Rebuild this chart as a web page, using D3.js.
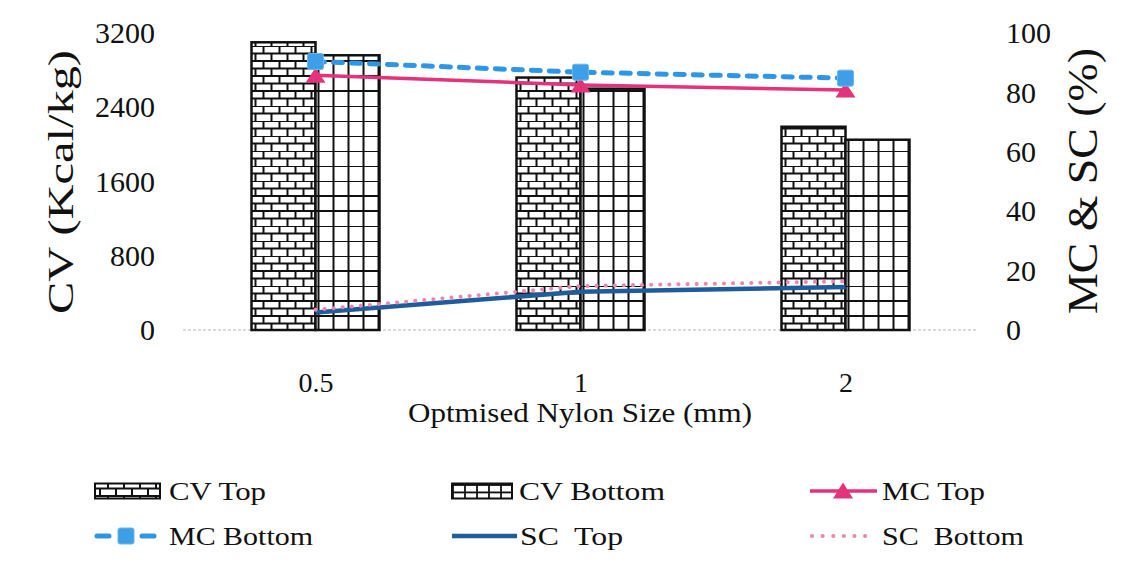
<!DOCTYPE html>
<html><head><meta charset="utf-8">
<script src="https://cdn.jsdelivr.net/npm/d3@7"></script>
<style>
body{margin:0;background:#fff}
text{font-family:"Liberation Serif","Times New Roman",serif;fill:#111}
</style>
</head><body>
<svg id="chart" width="1131" height="571"></svg>
<script>
// Nylon size categories and measured values
const sizes = ["0.5", "1", "2"];
const cvTop = [3100, 2720, 2190];
const cvBottom = [2960, 2600, 2050];
const mcTop = [85.8, 82.5, 80.8];
const mcBottom = [90.4, 86.8, 84.8];
const scTop = [5.9, 12.9, 14.5];
const scBottom = [6.8, 14.8, 16.4];
const cvTicks = [0, 800, 1600, 2400, 3200];
const pctTicks = [0, 20, 40, 60, 80, 100];
const legendLabels = ["CV Top", "CV Bottom", "MC Top", "MC Bottom", "SC  Top", "SC  Bottom"];

const svg = d3.select("#chart");
const plot = {left: 183, right: 978, top: 33, bottom: 330};

const x = d3.scalePoint().domain(sizes).range([plot.left, plot.right]).padding(0.5);
const sub = d3.scaleBand().domain(["top", "bottom"]).range([-64, 64]);
const yL = d3.scaleLinear().domain([0, 3200]).range([plot.bottom, plot.top]);
const yR = d3.scaleLinear().domain([0, 100]).range([plot.bottom, plot.top]);

// Fill patterns: brick for the top samples, grid for the bottom samples
const defs = svg.append("defs");
const brick = defs.append("pattern").attr("id", "brick").attr("patternUnits", "userSpaceOnUse")
  .attr("width", 16).attr("height", 15).attr("x", 251).attr("y", 330);
brick.append("rect").attr("width", 16).attr("height", 15).attr("fill", "#fff");
brick.append("path").attr("d", "M0,1H16M0,8.5H16M1,1V8.5M9,8.5V16M9,0V1")
  .attr("stroke", "#111").attr("stroke-width", 2).attr("fill", "none");

const grid = defs.append("pattern").attr("id", "grid").attr("patternUnits", "userSpaceOnUse")
  .attr("width", 15).attr("height", 15).attr("x", 317).attr("y", 330);
grid.append("rect").attr("width", 15).attr("height", 15).attr("fill", "#fff");
grid.append("path").attr("d", "M0,1H15M1,0V15")
  .attr("stroke", "#111").attr("stroke-width", 2).attr("fill", "none");

const gridSmall = defs.append("pattern").attr("id", "gridSmall").attr("patternUnits", "userSpaceOnUse")
  .attr("width", 12).attr("height", 7.5).attr("x", 452).attr("y", 484);
gridSmall.append("rect").attr("width", 12).attr("height", 7.5).attr("fill", "#fff");
gridSmall.append("path").attr("d", "M0,1H12M1,0V7.5")
  .attr("stroke", "#111").attr("stroke-width", 1.8).attr("fill", "none");

// Baseline
svg.append("line")
  .attr("x1", plot.left).attr("x2", plot.right)
  .attr("y1", yL(0)).attr("y2", yL(0))
  .attr("stroke", "#b8b8b8").attr("stroke-width", 1.2).attr("stroke-dasharray", "3 2");

// Bars
const barData = sizes.map((s, i) => ({s, top: cvTop[i], bottom: cvBottom[i]}));
const groups = svg.append("g").selectAll("g").data(barData).join("g")
  .attr("transform", d => `translate(${x(d.s)},0)`);
groups.append("rect")
  .attr("x", sub("top")).attr("width", sub.bandwidth())
  .attr("y", d => yL(d.top)).attr("height", d => yL(0) - yL(d.top))
  .attr("fill", "url(#brick)").attr("stroke", "#111").attr("stroke-width", 2.5);
groups.append("rect")
  .attr("x", sub("bottom")).attr("width", sub.bandwidth())
  .attr("y", d => yL(d.bottom)).attr("height", d => yL(0) - yL(d.bottom))
  .attr("fill", "url(#grid)").attr("stroke", "#111").attr("stroke-width", 2.5);

// Lines on the percentage axis
const line = d3.line().x(d => x(d.s)).y(d => yR(d.v));
const pts = arr => sizes.map((s, i) => ({s, v: arr[i]}));

const pink = "#e4327b", blue = "#2f95e6", navy = "#1f5c9c", lightPink = "#ec86b0";

function tri(cx, cy, w, h) {
  return `M${cx},${cy - h / 2}L${cx + w / 2},${cy + h / 2}L${cx - w / 2},${cy + h / 2}Z`;
}

svg.append("path").datum(pts(mcTop)).attr("d", line)
  .attr("fill", "none").attr("stroke", pink).attr("stroke-width", 3.5);
svg.append("g").selectAll("path").data(pts(mcTop)).join("path")
  .attr("d", d => tri(x(d.s), yR(d.v), 20, 15)).attr("fill", pink);

svg.append("path").datum(pts(mcBottom)).attr("d", line)
  .attr("fill", "none").attr("stroke", blue).attr("stroke-width", 5)
  .attr("stroke-dasharray", "9 9").attr("stroke-linecap", "round");
svg.append("g").selectAll("rect").data(pts(mcBottom)).join("rect")
  .attr("x", d => x(d.s) - 8).attr("y", d => yR(d.v) - 8)
  .attr("width", 16).attr("height", 16).attr("rx", 2)
  .attr("fill", "#3d9fe8").attr("stroke", "#6bb6ee").attr("stroke-width", 1);

svg.append("path").datum(pts(scTop)).attr("d", line)
  .attr("fill", "none").attr("stroke", navy).attr("stroke-width", 4.5);

svg.append("path").datum(pts(scBottom)).attr("d", line)
  .attr("fill", "none").attr("stroke", lightPink).attr("stroke-width", 4)
  .attr("stroke-dasharray", "0.1 9").attr("stroke-linecap", "round");

// Axes
const axL = svg.append("g").attr("transform", `translate(163,0)`)
  .call(d3.axisLeft(yL).tickValues(cvTicks).tickSize(0).tickPadding(8).tickFormat(d3.format("d")));
axL.select(".domain").remove();
axL.selectAll("text").attr("font-size", 30).style("fill", "#111");

const axR = svg.append("g").attr("transform", `translate(998,0)`)
  .call(d3.axisRight(yR).tickValues(pctTicks).tickSize(0).tickPadding(8).tickFormat(d3.format("d")));
axR.select(".domain").remove();
axR.selectAll("text").attr("font-size", 30).style("fill", "#111");

const axB = svg.append("g").attr("transform", `translate(0,${plot.bottom})`)
  .call(d3.axisBottom(x).tickSize(0).tickPadding(42));
axB.select(".domain").remove();
axB.selectAll("text").attr("font-size", 28).style("fill", "#111");

// Axis titles
svg.append("text").attr("transform", "translate(73,182) rotate(-90)")
  .attr("text-anchor", "middle").attr("font-size", 35)
  .attr("textLength", 264).attr("lengthAdjust", "spacingAndGlyphs")
  .text("CV (Kcal/kg)");
svg.append("text").attr("transform", "translate(1097,181) rotate(-90)")
  .attr("text-anchor", "middle").attr("font-size", 42)
  .attr("textLength", 266).attr("lengthAdjust", "spacingAndGlyphs")
  .text("MC & SC (%)");
svg.append("text").attr("x", 580).attr("y", 422)
  .attr("text-anchor", "middle").attr("font-size", 27)
  .attr("textLength", 344).attr("lengthAdjust", "spacingAndGlyphs")
  .text("Optmised Nylon Size (mm)");

// Legend
const lg = svg.append("g");
const cols = [95, 452, 810];
const rows = [491, 536];
const textX = [169, 519, 882];
const textLen = [97, 146, 103, 144, 103, 142];

legendLabels.forEach((lab, i) => {
  const c = i % 3, r = Math.floor(i / 3);
  const x0 = cols[c], yc = rows[r];
  const g = lg.append("g");
  if (i === 0) {
    g.append("rect").attr("x", x0).attr("y", yc - 7.5).attr("width", 65).attr("height", 15)
      .attr("fill", "url(#brick)").attr("stroke", "#111").attr("stroke-width", 2);
  } else if (i === 1) {
    g.append("rect").attr("x", x0).attr("y", yc - 7.5).attr("width", 60).attr("height", 15)
      .attr("fill", "url(#gridSmall)").attr("stroke", "#111").attr("stroke-width", 2);
  } else if (i === 2) {
    g.append("line").attr("x1", x0).attr("x2", x0 + 67).attr("y1", yc).attr("y2", yc)
      .attr("stroke", pink).attr("stroke-width", 3.5);
    g.append("path").attr("d", tri(x0 + 33, yc - 0.5, 20, 16)).attr("fill", pink);
  } else if (i === 3) {
    g.append("line").attr("x1", x0).attr("x2", x0 + 60).attr("y1", yc).attr("y2", yc)
      .attr("stroke", blue).attr("stroke-width", 5)
      .attr("stroke-dasharray", "12 33").attr("stroke-linecap", "round").attr("stroke-dashoffset", -2);
    g.append("rect").attr("x", x0 + 23).attr("y", yc - 8).attr("width", 16).attr("height", 16).attr("rx", 2)
      .attr("fill", "#3d9fe8").attr("stroke", "#6bb6ee");
  } else if (i === 4) {
    g.append("line").attr("x1", x0).attr("x2", x0 + 65).attr("y1", yc).attr("y2", yc)
      .attr("stroke", navy).attr("stroke-width", 4.5);
  } else {
    g.append("line").attr("x1", x0 + 2).attr("x2", x0 + 62).attr("y1", yc).attr("y2", yc)
      .attr("stroke", lightPink).attr("stroke-width", 4)
      .attr("stroke-dasharray", "0.1 10.5").attr("stroke-linecap", "round");
  }
  g.append("text").attr("x", textX[c] + (r === 1 && c === 1 ? 1 : 0)).attr("y", yc + 9)
    .attr("font-size", 26).style("white-space", "pre")
    .attr("textLength", textLen[i]).attr("lengthAdjust", "spacingAndGlyphs")
    .text(lab);
});
</script>
</body></html>
